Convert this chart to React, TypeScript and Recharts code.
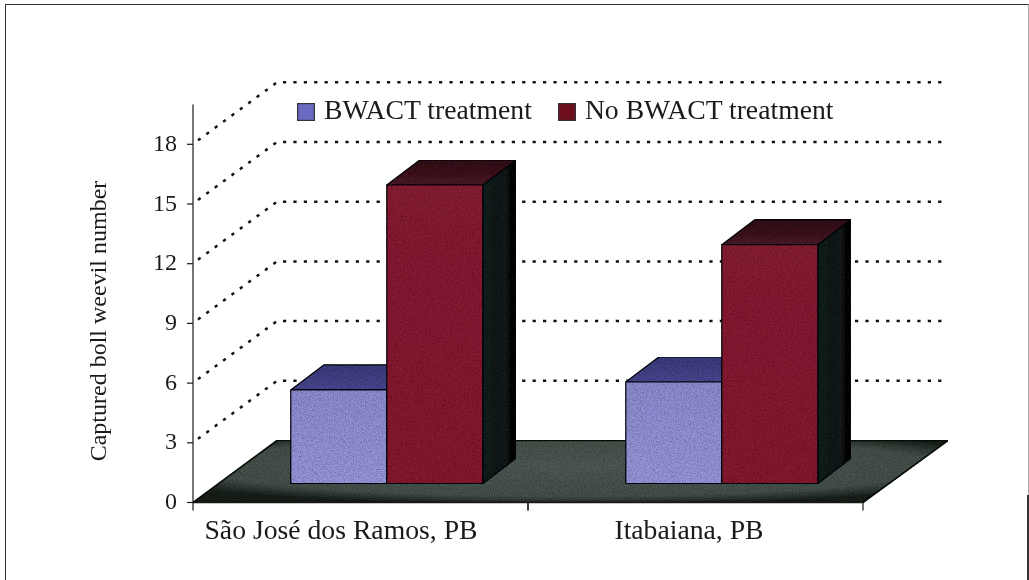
import React from "react";
import { BarChart, Bar, XAxis, YAxis, ReferenceLine, Legend, Label } from "recharts";

const categories = ["São José dos Ramos, PB", "Itabaiana, PB"];
const bwact = [4.7, 5.1];
const noBwact = [15, 12];
const yTicks = [0, 3, 6, 9, 12, 15, 18];
const gridTicks = [3, 6, 9, 12, 15, 18];
const seriesNames = ["BWACT treatment", "No BWACT treatment"];
const rows = categories.map((c, i) => ({ category: c, bwact: bwact[i], noBwact: noBwact[i] }));

const W = 1029, H = 580;
const FONT = "'Liberation Serif', serif";
const plot = { left: 193, right: 863, top: 104.5, bottom: 502.5 };
const wall = { dx: 84, dy: -62, gridEnd: 79 };
const barDepth = { dx: 33, dy: -25 };
const barShift = { dx: 26.3, dy: -19 };
const labelNudge = [-19.5, -6.5];
const band = (plot.right - plot.left) / categories.length;
const ink = "#1a1a1a";

function Box3D(p: any, front: string, top: string, side: string) {
  const x = p.x + barShift.dx, y = p.y + barShift.dy, w = p.width, h = p.height;
  const { dx, dy } = barDepth;
  return (
    <g stroke="#0b0b12" strokeWidth={1.2} strokeLinejoin="round" filter="url(#grain)">
      <polygon points={`${x + w},${y} ${x + w + dx},${y + dy} ${x + w + dx},${y + h + dy} ${x + w},${y + h}`} fill={side} />
      <polygon points={`${x},${y} ${x + dx},${y + dy} ${x + w + dx},${y + dy} ${x + w},${y}`} fill={top} />
      <rect x={x} y={y} width={w} height={h} fill={front} />
    </g>
  );
}
const BlueBox = (p: any) => Box3D(p, "url(#blueFront)", "url(#blueTop)", "#20204c");
const RedBox = (p: any) => Box3D(p, "url(#redFront)", "url(#redTop)", "url(#darkSide)");

const GridShape = (p: any) => {
  const { x1, y1, x2 } = p;
  const ox = x1 + 5, oy = y1 - 4;
  return (
    <path
      d={`M${ox},${oy} L${x1 + wall.dx},${y1 + wall.dy} L${x2 + wall.gridEnd},${y1 + wall.dy}`}
      fill="none" stroke="#111" strokeWidth={2.5} strokeDasharray="3.2 7.2"
    />
  );
};
const FloorShape = (p: any) => {
  const { x1, y1, x2 } = p;
  return (
    <polygon
      points={`${x1},${y1} ${x1 + wall.dx},${y1 + wall.dy} ${x2 + wall.dx + 1},${y1 + wall.dy} ${x2},${y1}`}
      fill="url(#floorFill)" stroke="#10140f" strokeWidth={1.6} filter="url(#grain)"
    />
  );
};

const XTick = (p: any) => {
  const half = band / 2;
  const idx = categories.indexOf(p.payload.value);
  return (
    <g>
      <line x1={p.x - half} x2={p.x - half} y1={p.y - 8} y2={p.y} stroke={ink} strokeWidth={1.2} />
      <line x1={p.x + half} x2={p.x + half} y1={p.y - 8} y2={p.y} stroke={ink} strokeWidth={1.2} />
      <text x={p.x + labelNudge[idx]} y={p.y + 28} textAnchor="middle" fontFamily={FONT} fontSize={27.7} fill={ink}>
        {p.payload.value}
      </text>
    </g>
  );
};

const LegendBody = (p: any) => {
  const items = p.payload || [];
  return (
    <div style={{ display: "flex", alignItems: "center", fontFamily: FONT, fontSize: 27.7, color: ink, lineHeight: "30px", whiteSpace: "nowrap" }}>
      {items.map((it: any, i: number) => (
        <span key={it.value} style={{ display: "inline-flex", alignItems: "center", marginRight: i === 0 ? 26 : 0 }}>
          <svg width={18} height={18} style={{ marginRight: 9, position: "relative", top: 1.5 }}>
            <rect x={0.6} y={0.6} width={16.8} height={16.8} fill={i === 0 ? "#6a6ac0" : "#6e0f1c"} stroke="#33333f" strokeWidth={1.2} />
          </svg>
          {it.value}
        </span>
      ))}
    </div>
  );
};

export default function App() {
  return (
    <div style={{ position: "absolute", left: 0, top: 0, width: W, height: H, background: "#fff", overflow: "hidden" }}>
      <div style={{ position: "absolute", left: 5, top: 3.5, width: 1022, height: 575, borderLeft: "1.6px solid #333", borderTop: "1.6px solid #333", borderRight: "1.2px solid #aaa", borderBottom: "1px solid #ddd" }} />
      <div style={{ position: "absolute", left: 1027, top: 495, width: 1.6, height: 85, background: "#333" }} />
      <div style={{ position: "absolute", left: 0, top: 0, filter: "blur(0.45px)" }}>
        <BarChart
          width={W}
          height={H}
          data={rows}
          margin={{ left: plot.left - 60, right: W - plot.right, top: plot.top, bottom: H - plot.bottom - 40 }}
          barCategoryGap={71.5}
          barGap={0}
        >
          <defs>
            <filter id="grain" x="0" y="0" width="1" height="1">
              <feTurbulence type="fractalNoise" baseFrequency="0.75" numOctaves="2" seed="4" result="n" />
              <feColorMatrix in="n" type="matrix" values="0 0 0 0 0  0 0 0 0 0  0 0 0 0 0  1.1 0 0 0 -0.38" result="dark" />
              <feComposite in="dark" in2="SourceGraphic" operator="in" result="speck" />
              <feMerge>
                <feMergeNode in="SourceGraphic" />
                <feMergeNode in="speck" />
              </feMerge>
            </filter>
            <linearGradient id="blueFront" x1="0" y1="0" x2="0" y2="1">
              <stop offset="0" stopColor="#9090d6" />
              <stop offset="1" stopColor="#9a9ae0" />
            </linearGradient>
            <linearGradient id="blueTop" x1="0" y1="1" x2="0" y2="0">
              <stop offset="0" stopColor="#4a4a94" />
              <stop offset="1" stopColor="#3e3e80" />
            </linearGradient>
            <linearGradient id="redFront" x1="0" y1="0" x2="0" y2="1">
              <stop offset="0" stopColor="#8a2036" />
              <stop offset="1" stopColor="#881c32" />
            </linearGradient>
            <linearGradient id="redTop" x1="0" y1="1" x2="0" y2="0">
              <stop offset="0" stopColor="#4c1c28" />
              <stop offset="1" stopColor="#321419" />
            </linearGradient>
            <linearGradient id="darkSide" x1="0" y1="0" x2="1" y2="0">
              <stop offset="0" stopColor="#142220" />
              <stop offset="0.7" stopColor="#1a1c1c" />
              <stop offset="1" stopColor="#020202" />
            </linearGradient>
            <radialGradient id="floorFill" cx="0.5" cy="0.42" r="0.62">
              <stop offset="0" stopColor="#515c57" />
              <stop offset="0.78" stopColor="#47524d" />
              <stop offset="1" stopColor="#1a211e" />
            </radialGradient>
          </defs>
          <XAxis
            dataKey="category"
            height={40}
            axisLine={{ stroke: ink, strokeWidth: 1.4 }}
            tickLine={false}
            interval={0}
            tick={XTick}
          />
          <YAxis
            width={60}
            domain={[0, 20]}
            ticks={yTicks}
            interval={0}
            allowDataOverflow
            axisLine={{ stroke: ink, strokeWidth: 1.2 }}
            tickLine={{ stroke: ink, strokeWidth: 1.2 }}
            tickSize={6}
            tickMargin={10}
            tick={{ fontFamily: FONT, fontSize: 24, fill: ink, dy: -2 }}
          >
            <Label
              value="Captured boll weevil number"
              angle={-90}
              position={{ x: -27, y: 216.5 }}
              style={{ fontFamily: FONT, fontSize: 24, fill: ink, textAnchor: "middle" }}
            />
          </YAxis>
          <ReferenceLine y={0} shape={FloorShape} zIndex={-2} ifOverflow="visible" />
          {gridTicks.map((t) => (
            <ReferenceLine key={t} y={t} shape={GridShape} zIndex={-1} ifOverflow="visible" />
          ))}
          <Legend
            layout="horizontal"
            verticalAlign="middle"
            align="center"
            content={LegendBody}
            wrapperStyle={{ position: "absolute", left: 297, top: 95, width: 600, height: 30 }}
          />
          <Bar dataKey="bwact" name={seriesNames[0]} fill="#6a6ac0" shape={BlueBox} isAnimationActive={false} />
          <Bar dataKey="noBwact" name={seriesNames[1]} fill="#6e0f1c" shape={RedBox} isAnimationActive={false} />
        </BarChart>
      </div>
    </div>
  );
}
